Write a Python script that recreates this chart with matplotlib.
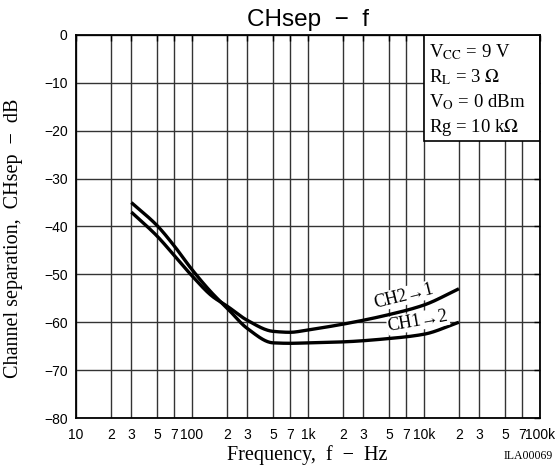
import numpy as np
import matplotlib
matplotlib.use("Agg")
import matplotlib.pyplot as plt
from matplotlib.patches import Rectangle

plt.rcParams['font.family'] = ['Liberation Sans', 'DejaVu Sans']
plt.rcParams['mathtext.fontset'] = 'stix'

# data
freq = [30, 50, 70, 100, 150, 200, 300, 500, 700, 1000, 2000, 5000, 10000, 20000]
ch1_to_2 = [-35, -39.8, -44, -49, -54, -57, -61.3, -64.3, -64.4, -64.3, -64.1, -63.4, -62.5, -60]
ch2_to_1 = [-37, -42, -46, -50.3, -54.6, -56.6, -59.6, -61.9, -62.1, -61.6, -60.4, -58.4, -56.4, -53]

decades = [10, 100, 1000, 10000, 100000]
decade_labels = ['10', '100', '1k', '10k', '100k']
minor_steps = [2, 3, 5, 7]
yticks = [0, -10, -20, -30, -40, -50, -60, -70, -80]


def pchip(f, v, n=400):
    # monotone cubic hermite in log-frequency space
    x = np.log10(np.asarray(f, float))
    y = np.asarray(v, float)
    h = np.diff(x)
    d = np.diff(y) / h
    m = np.zeros_like(y)
    for k in range(1, len(y) - 1):
        if d[k-1] * d[k] > 0:
            w1 = 2*h[k] + h[k-1]
            w2 = h[k] + 2*h[k-1]
            m[k] = (w1 + w2) / (w1/d[k-1] + w2/d[k])
    m[0] = d[0]
    m[-1] = d[-1]
    xs = np.linspace(x[0], x[-1], n)
    idx = np.clip(np.searchsorted(x, xs) - 1, 0, len(h) - 1)
    t = (xs - x[idx]) / h[idx]
    h00 = 2*t**3 - 3*t**2 + 1
    h10 = t**3 - 2*t**2 + t
    h01 = -2*t**3 + 3*t**2
    h11 = t**3 - t**2
    ys = h00*y[idx] + h10*h[idx]*m[idx] + h01*y[idx+1] + h11*h[idx]*m[idx+1]
    return 10**xs, ys


fig = plt.figure(figsize=(5.59, 4.69), dpi=100)
ax = fig.add_axes([76/559, 1-418/469, 464/559, 383/469])

for series in (ch1_to_2, ch2_to_1):
    fx, fy = pchip(freq, series)
    ax.plot(fx, fy, color='black', lw=2.4, zorder=4, solid_capstyle='butt')

ax.set_xscale('log')
ax.set_xlim(10, 100000)
ax.set_ylim(-80, 0)

ticks = []
labels = []
for i, d in enumerate(decades):
    ticks.append(d)
    labels.append(decade_labels[i])
    if d < 100000:
        for m in minor_steps:
            ticks.append(d * m)
            labels.append(str(m))
ax.set_xticks(ticks)
ax.set_xticklabels(labels)
ax.xaxis.set_minor_locator(matplotlib.ticker.NullLocator())
ax.set_yticks(yticks)
ax.set_yticklabels([str(v).replace('-', '\u2212') for v in yticks])

ax.grid(True, color='#333333', lw=1.0, zorder=1)
ax.tick_params(axis='both', which='both', labelsize=10, length=0)
ax.tick_params(axis='x', pad=7)
ax.tick_params(axis='y', pad=6)
ax.tick_params(top=True, right=True, direction='in', length=4, width=1)
ax.tick_params(bottom=False, left=False)
for s in ax.spines.values():
    s.set_linewidth(1.3)
    s.set_zorder(6)

# condition box
ax.add_patch(Rectangle((10000, -22.2), 90000, 22.2, facecolor='white',
                       edgecolor='black', lw=1.2, zorder=3))
serif = ['Liberation Serif', 'DejaVu Serif']
cond = [r'V$_{\mathrm{CC}}$ = 9 V', r'R$_{\mathrm{L}}$ = 3 $\Omega$',
        r'V$_{\mathrm{O}}$ = 0 dBm', r'Rg = 10 k$\Omega$']
for i, t in enumerate(cond):
    fig.text(429/559, 1-(52 + i*25)/469, t, family=serif, fontsize=13.5,
             va='center', ha='left', zorder=7)

fig.text(404/559, 1-296/469, 'CH2\u21921', family=serif, fontsize=13,
         rotation=14, ha='center', va='center', zorder=5,
         bbox=dict(facecolor='white', edgecolor='none', pad=0.5))
fig.text(418/559, 1-321/469, 'CH1\u21922', family=serif, fontsize=13,
         rotation=10, ha='center', va='center', zorder=5,
         bbox=dict(facecolor='white', edgecolor='none', pad=0.5))

fig.text(308/559, 1-20/469, 'CHsep  \u2212  f', fontsize=17.5,
         ha='center', va='center')
fig.text(307/559, 1-455/469, 'Frequency,  f  \u2212  Hz', family=serif,
         fontsize=14.5, ha='center', va='center')
fig.text(14/559, 1-238/469, 'Channel separation,  CHsep  \u2212  dB',
         family=serif, fontsize=14.5, rotation=90, ha='center', va='center')
fig.text(553/559, 1-456/469, 'ILA00069', family=serif, fontsize=8.5,
         ha='right', va='center')

fig.savefig('out.png', dpi=100)
